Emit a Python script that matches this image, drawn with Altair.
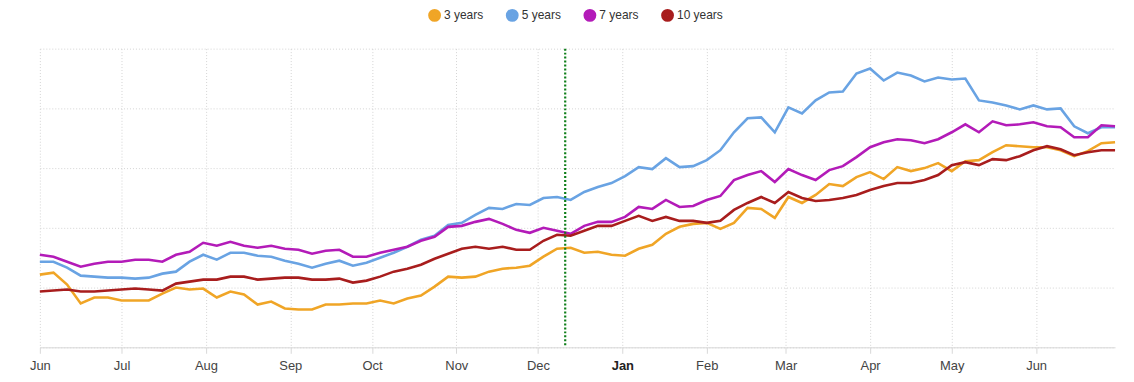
import altair as alt
import pandas as pd

# sample dates: every 5 days from 2023-06-01
dates = pd.date_range("2023-06-01", periods=80, freq="5D").strftime("%Y-%m-%d").tolist()

series_names = ["3 years", "5 years", "7 years", "10 years"]
series_colors = ["#F0A526", "#69A3E3", "#B31BB8", "#A81D1D"]

y3 = [73, 75, 63, 44, 50, 50, 47, 47, 47, 54,
      60, 58, 59, 50, 56, 53, 43, 46, 39, 38,
      38, 43, 43, 44, 44, 47, 44, 49, 52, 61,
      71, 70, 71, 76, 79, 80, 82, 91, 99, 100,
      95, 96, 93, 92, 99, 103, 114, 121, 124, 125,
      119, 125, 140, 139, 130, 151, 145, 153, 164, 162,
      171, 176, 169, 181, 177, 180, 185, 177, 187, 188,
      196, 203, 202, 201, 201, 198, 192, 197, 205, 206]

y5 = [86, 86, 80, 72, 71, 70, 70, 69, 70, 74,
      76, 86, 93, 88, 95, 95, 92, 91, 87, 84,
      80, 84, 87, 82, 85, 90, 95, 101, 108, 112,
      123, 125, 133, 140, 139, 144, 143, 150, 151, 148,
      156, 161, 165, 172, 181, 179, 190, 181, 182, 188,
      198, 216, 230, 231, 216, 241, 235, 248, 256, 257,
      275, 280, 268, 276, 273, 267, 271, 269, 270, 248,
      246, 243, 239, 243, 239, 240, 222, 215, 221, 221]

y7 = [93, 91, 86, 81, 84, 86, 86, 88, 88, 86,
      93, 96, 105, 102, 106, 102, 100, 102, 99, 98,
      94, 97, 98, 91, 91, 95, 98, 101, 107, 111,
      121, 122, 126, 129, 124, 118, 115, 120, 117, 114,
      122, 126, 126, 131, 141, 139, 148, 141, 142, 148,
      152, 168, 173, 177, 166, 179, 173, 168, 178, 182,
      191, 201, 206, 209, 208, 205, 209, 216, 224, 216,
      227, 223, 224, 226, 222, 221, 211, 211, 223, 222]

y10 = [56, 57, 58, 56, 56, 57, 58, 59, 58, 57,
       64, 66, 68, 68, 71, 71, 68, 69, 70, 70,
       68, 68, 69, 65, 67, 71, 76, 79, 83, 89,
       94, 99, 101, 99, 101, 98, 98, 107, 113, 112,
       117, 122, 122, 127, 132, 127, 131, 127, 127, 125,
       127, 138, 145, 151, 145, 156, 150, 147, 148, 150,
       153, 158, 162, 165, 165, 168, 173, 183, 186, 183,
       189, 188, 192, 198, 202, 199, 193, 196, 198, 198]

marker_date = ["2023-12-11"]
month_ticks = [(2023, m) for m in range(6, 13)] + [(2024, m) for m in range(1, 7)]
y_ticks = [0, 60, 120, 180, 240, 300]

rows = []
for name, vals in zip(series_names, [y3, y5, y7, y10]):
    for d, v in zip(dates, vals):
        rows.append({"date": d, "value": v, "series": name})
df = pd.DataFrame(rows)

x_scale = alt.Scale(type="utc", domain=[dates[0], dates[-1]], nice=False)
y_scale = alt.Scale(domain=[0, 300], nice=False, zero=False)

x_axis = alt.Axis(
    title=None,
    values=[alt.DateTime(year=y, month=m, date=1, utc=True) for y, m in month_ticks],
    format="%b",
    grid=True,
    gridDash=[1, 2],
    gridColor="#d4d4d4",
    domainColor="#d8d8d8",
    tickColor="#d8d8d8",
    tickSize=6,
    labelPadding=6,
    labelFontSize=13,
    labelFont="Liberation Sans",
    labelColor=alt.ExprRef("utcmonth(datum.value) === 0 ? '#222222' : '#444444'"),
    labelFontWeight=alt.ExprRef("utcmonth(datum.value) === 0 ? 'bold' : 'normal'"),
    labelFlush=False,
    labelOverlap=False,
)
y_axis = alt.Axis(
    title=None, values=y_ticks, labels=False, ticks=False, domain=False,
    grid=True, gridDash=[1, 2], gridColor="#d4d4d4",
)

lines = alt.Chart(df).mark_line().encode(
    x=alt.X("date:T", scale=x_scale, axis=x_axis),
    y=alt.Y("value:Q", scale=y_scale, axis=y_axis),
    strokeWidth=alt.value(2.6),
    color=alt.Color(
        "series:N", scale=alt.Scale(domain=series_names, range=series_colors),
        sort=series_names,
        legend=alt.Legend(
            title=None, orient="none", direction="horizontal",
            legendX=390, legendY=-40,
            # a thick ring with a tiny hole closes into a solid disc
            symbolType="circle", symbolSize=40, symbolStrokeWidth=6.6,
            symbolOpacity=1,
            labelFontSize=12, labelFont="Liberation Sans", labelColor="#333333",
            labelOffset=3, columnPadding=12,
        ),
    ),
)

rule = alt.Chart(pd.DataFrame({"date": marker_date})).mark_rule(
    color="#0f7f1a", strokeDash=[2, 2], strokeWidth=2.2
).encode(x=alt.X("date:T"))

chart = alt.layer(lines, rule).properties(
    width=1080, height=300,
    padding={"left": 21, "top": 0, "right": 5, "bottom": 5},
).configure_view(stroke=None)

chart.save("out.html", embed_options={"renderer": "svg", "actions": False})
